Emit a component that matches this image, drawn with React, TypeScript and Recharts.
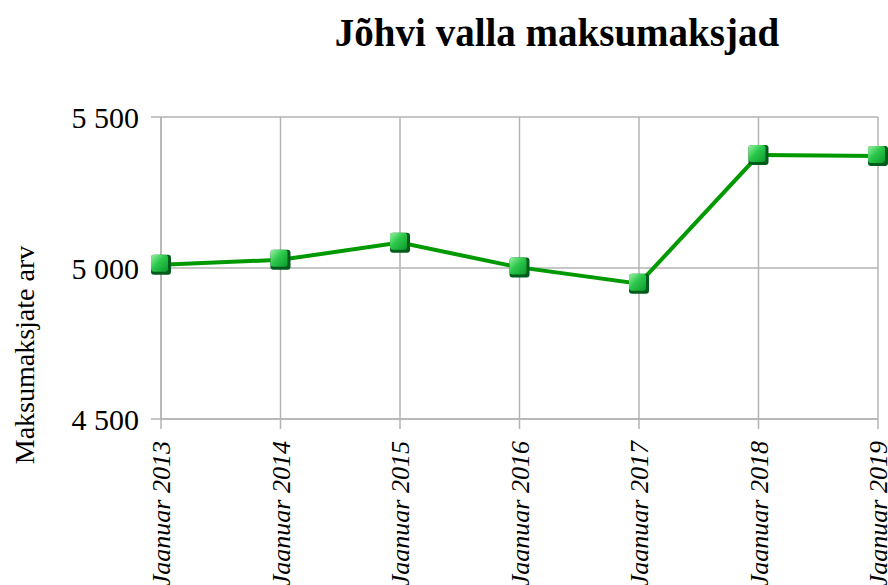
import { LineChart, Line, XAxis, YAxis, CartesianGrid } from 'recharts';

const categories = [
  'Jaanuar 2013',
  'Jaanuar 2014',
  'Jaanuar 2015',
  'Jaanuar 2016',
  'Jaanuar 2017',
  'Jaanuar 2018',
  'Jaanuar 2019',
];
const taxpayers = [5011, 5027, 5084, 5002, 4948, 5374, 5371];
const yTicks = [4500, 5000, 5500];

const data = categories.map((name, i) => ({ name, value: taxpayers[i] }));

const SERIF = '"Liberation Serif", "Times New Roman", serif';
const GRID = '#b3b3b3';

const fmt = (v: number) => String(v).replace(/\B(?=(\d{3})+(?!\d))/g, ' ');

function XTick({ x, y, payload }: any) {
  return (
    <g transform={`translate(${x},${y + 10})`}>
      <text
        transform="rotate(-90)"
        textAnchor="end"
        dy="0.35em"
        fontFamily={SERIF}
        fontStyle="italic"
        fontSize={26}
        fill="#000"
      >
        {payload.value}
      </text>
    </g>
  );
}

function YTick({ x, y, payload }: any) {
  return (
    <text x={x - 10} y={y} dy="0.35em" textAnchor="end" fontFamily={SERIF} fontSize={30} fill="#000">
      {fmt(payload.value)}
    </text>
  );
}

function Marker({ cx, cy, index }: any) {
  if (cx == null || cy == null) return null;
  const id = `mk-${index}`;
  return (
    <g>
      <defs>
        <linearGradient id={id} x1="0" y1="0" x2="1" y2="1">
          <stop offset="0%" stopColor="#9af2a4" />
          <stop offset="45%" stopColor="#2cc84c" />
          <stop offset="100%" stopColor="#0c9a2c" />
        </linearGradient>
      </defs>
      <rect x={cx - 10} y={cy - 10} width={20} height={20} rx={3} fill="#005c1a" />
      <rect x={cx - 10} y={cy - 10} width={17} height={17} rx={3} fill={`url(#${id})`} />
    </g>
  );
}

export default function App() {
  return (
    <div style={{ position: 'absolute', left: 0, top: 0, width: 888, height: 585, background: '#fff', overflow: 'hidden' }}>
      <div
        style={{
          position: 'absolute',
          left: 557,
          top: 8,
          transform: 'translateX(-50%)',
          fontFamily: SERIF,
          fontWeight: 'bold',
          fontSize: 39,
          whiteSpace: 'nowrap',
          lineHeight: '50px',
        }}
      >
        Jõhvi valla maksumaksjad
      </div>
      <div
        style={{
          position: 'absolute',
          left: 25,
          top: 355,
          transform: 'translate(-50%, -50%) rotate(-90deg)',
          fontFamily: SERIF,
          fontSize: 28,
          whiteSpace: 'nowrap',
        }}
      >
        Maksumaksjate arv
      </div>
      <LineChart width={888} height={585} data={data} margin={{ top: 117, right: 10, left: 0, bottom: 0 }}>
        <CartesianGrid stroke={GRID} strokeWidth={1.5} />
        <XAxis
          dataKey="name"
          interval={0}
          height={166}
          stroke={GRID}
          strokeWidth={1.5}
          tickSize={10}
          tick={<XTick />}
        />
        <YAxis
          domain={[4500, 5500]}
          ticks={yTicks}
          width={161}
          stroke={GRID}
          strokeWidth={1.5}
          tickSize={10}
          tick={<YTick />}
        />
        <Line
          type="linear"
          dataKey="value"
          stroke="#009900"
          strokeWidth={4}
          dot={<Marker />}
          activeDot={false}
          isAnimationActive={false}
        />
      </LineChart>
    </div>
  );
}
